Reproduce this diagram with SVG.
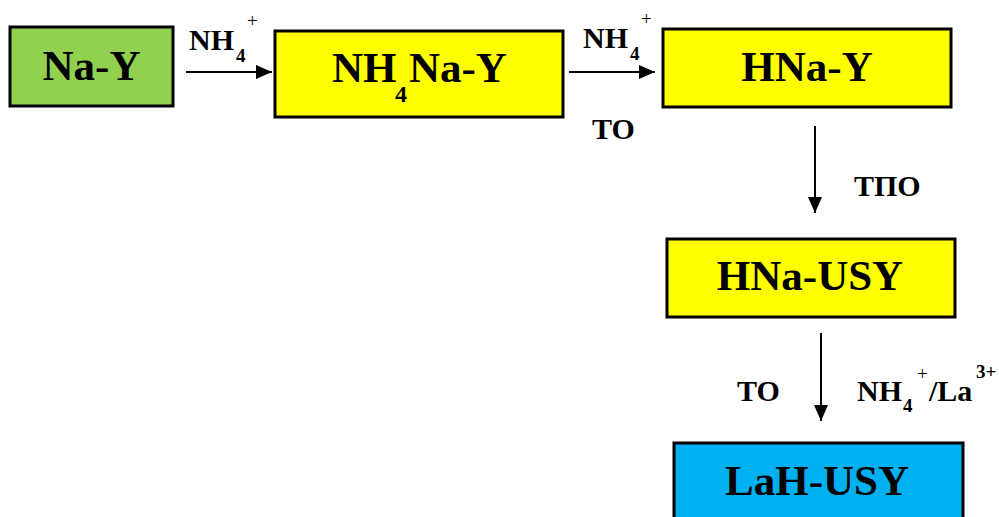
<svg xmlns="http://www.w3.org/2000/svg" width="999" height="517" viewBox="0 0 999 517">
<style>
.box{stroke:#000;stroke-width:3}
.t{font-family:"Liberation Serif","Times New Roman",serif;font-weight:bold;fill:#000}
.big{font-size:43px}
.lab{font-size:30px}
.sub{font-size:19px}
.sup{font-size:19px;font-weight:normal}
.sup3{font-size:19px}
.sub2{font-size:24px}
.ln{stroke:#000;stroke-width:2;fill:none}
</style>
<defs>
<marker id="ah" markerUnits="userSpaceOnUse" markerWidth="18" markerHeight="14" refX="16" refY="7" orient="auto">
<path d="M0,0 L16,7 L0,14 Z" fill="#000"/>
</marker>
</defs>
<rect width="999" height="517" fill="#fff"/>
<g id="connectors">
<line class="ln" x1="186" y1="72" x2="272" y2="72" marker-end="url(#ah)"/>
<line class="ln" x1="569" y1="72" x2="655" y2="72" marker-end="url(#ah)"/>
<line class="ln" x1="815" y1="126" x2="815" y2="213" marker-end="url(#ah)"/>
<line class="ln" x1="821" y1="333" x2="821" y2="421" marker-end="url(#ah)"/>
<g id="label-nh4-1">
<text class="t lab" x="189" y="50">NH</text>
<text class="t sub" x="236" y="62">4</text>
<text class="t sup" x="247" y="27">+</text>
</g>
<g id="label-nh4-2">
<text class="t lab" x="583" y="48">NH</text>
<text class="t sub" x="630" y="60">4</text>
<text class="t sup" x="641" y="25">+</text>
</g>
<text class="t lab" x="592" y="139">TO</text>
<text class="t lab" x="854" y="196">TПО</text>
<text class="t lab" x="737" y="401">TO</text>
<g id="label-nh4-la">
<text class="t lab" x="857" y="401">NH</text>
<text class="t sub" x="903" y="412">4</text>
<text class="t sup" x="917" y="380">+</text>
<text class="t lab" x="929" y="401">/La</text>
<text class="t sup3" x="976" y="378">3+</text>
</g>
</g>
<g id="node-nay">
<rect class="box" x="10" y="27" width="163" height="79" fill="#92D050"/>
<text class="t big" x="91.5" y="80" text-anchor="middle">Na-Y</text>
</g>
<g id="node-nh4nay">
<rect class="box" x="275" y="31" width="288" height="86" fill="#FFFF00"/>
<text class="t big" x="332" y="82">NH</text>
<text class="t sub2" x="395" y="102">4</text>
<text class="t big" x="409" y="82">Na-Y</text>
</g>
<g id="node-hnay">
<rect class="box" x="663" y="29" width="288" height="78" fill="#FFFF00"/>
<text class="t big" x="807" y="81" text-anchor="middle">HNa-Y</text>
</g>
<g id="node-hnausy">
<rect class="box" x="667" y="239" width="288" height="78" fill="#FFFF00"/>
<text class="t big" x="810" y="290" text-anchor="middle">HNa-USY</text>
</g>
<g id="node-lahusy">
<rect class="box" x="674" y="443" width="289" height="90" fill="#00B0F0"/>
<text class="t big" x="817" y="495" text-anchor="middle">LaH-USY</text>
</g>
</svg>
